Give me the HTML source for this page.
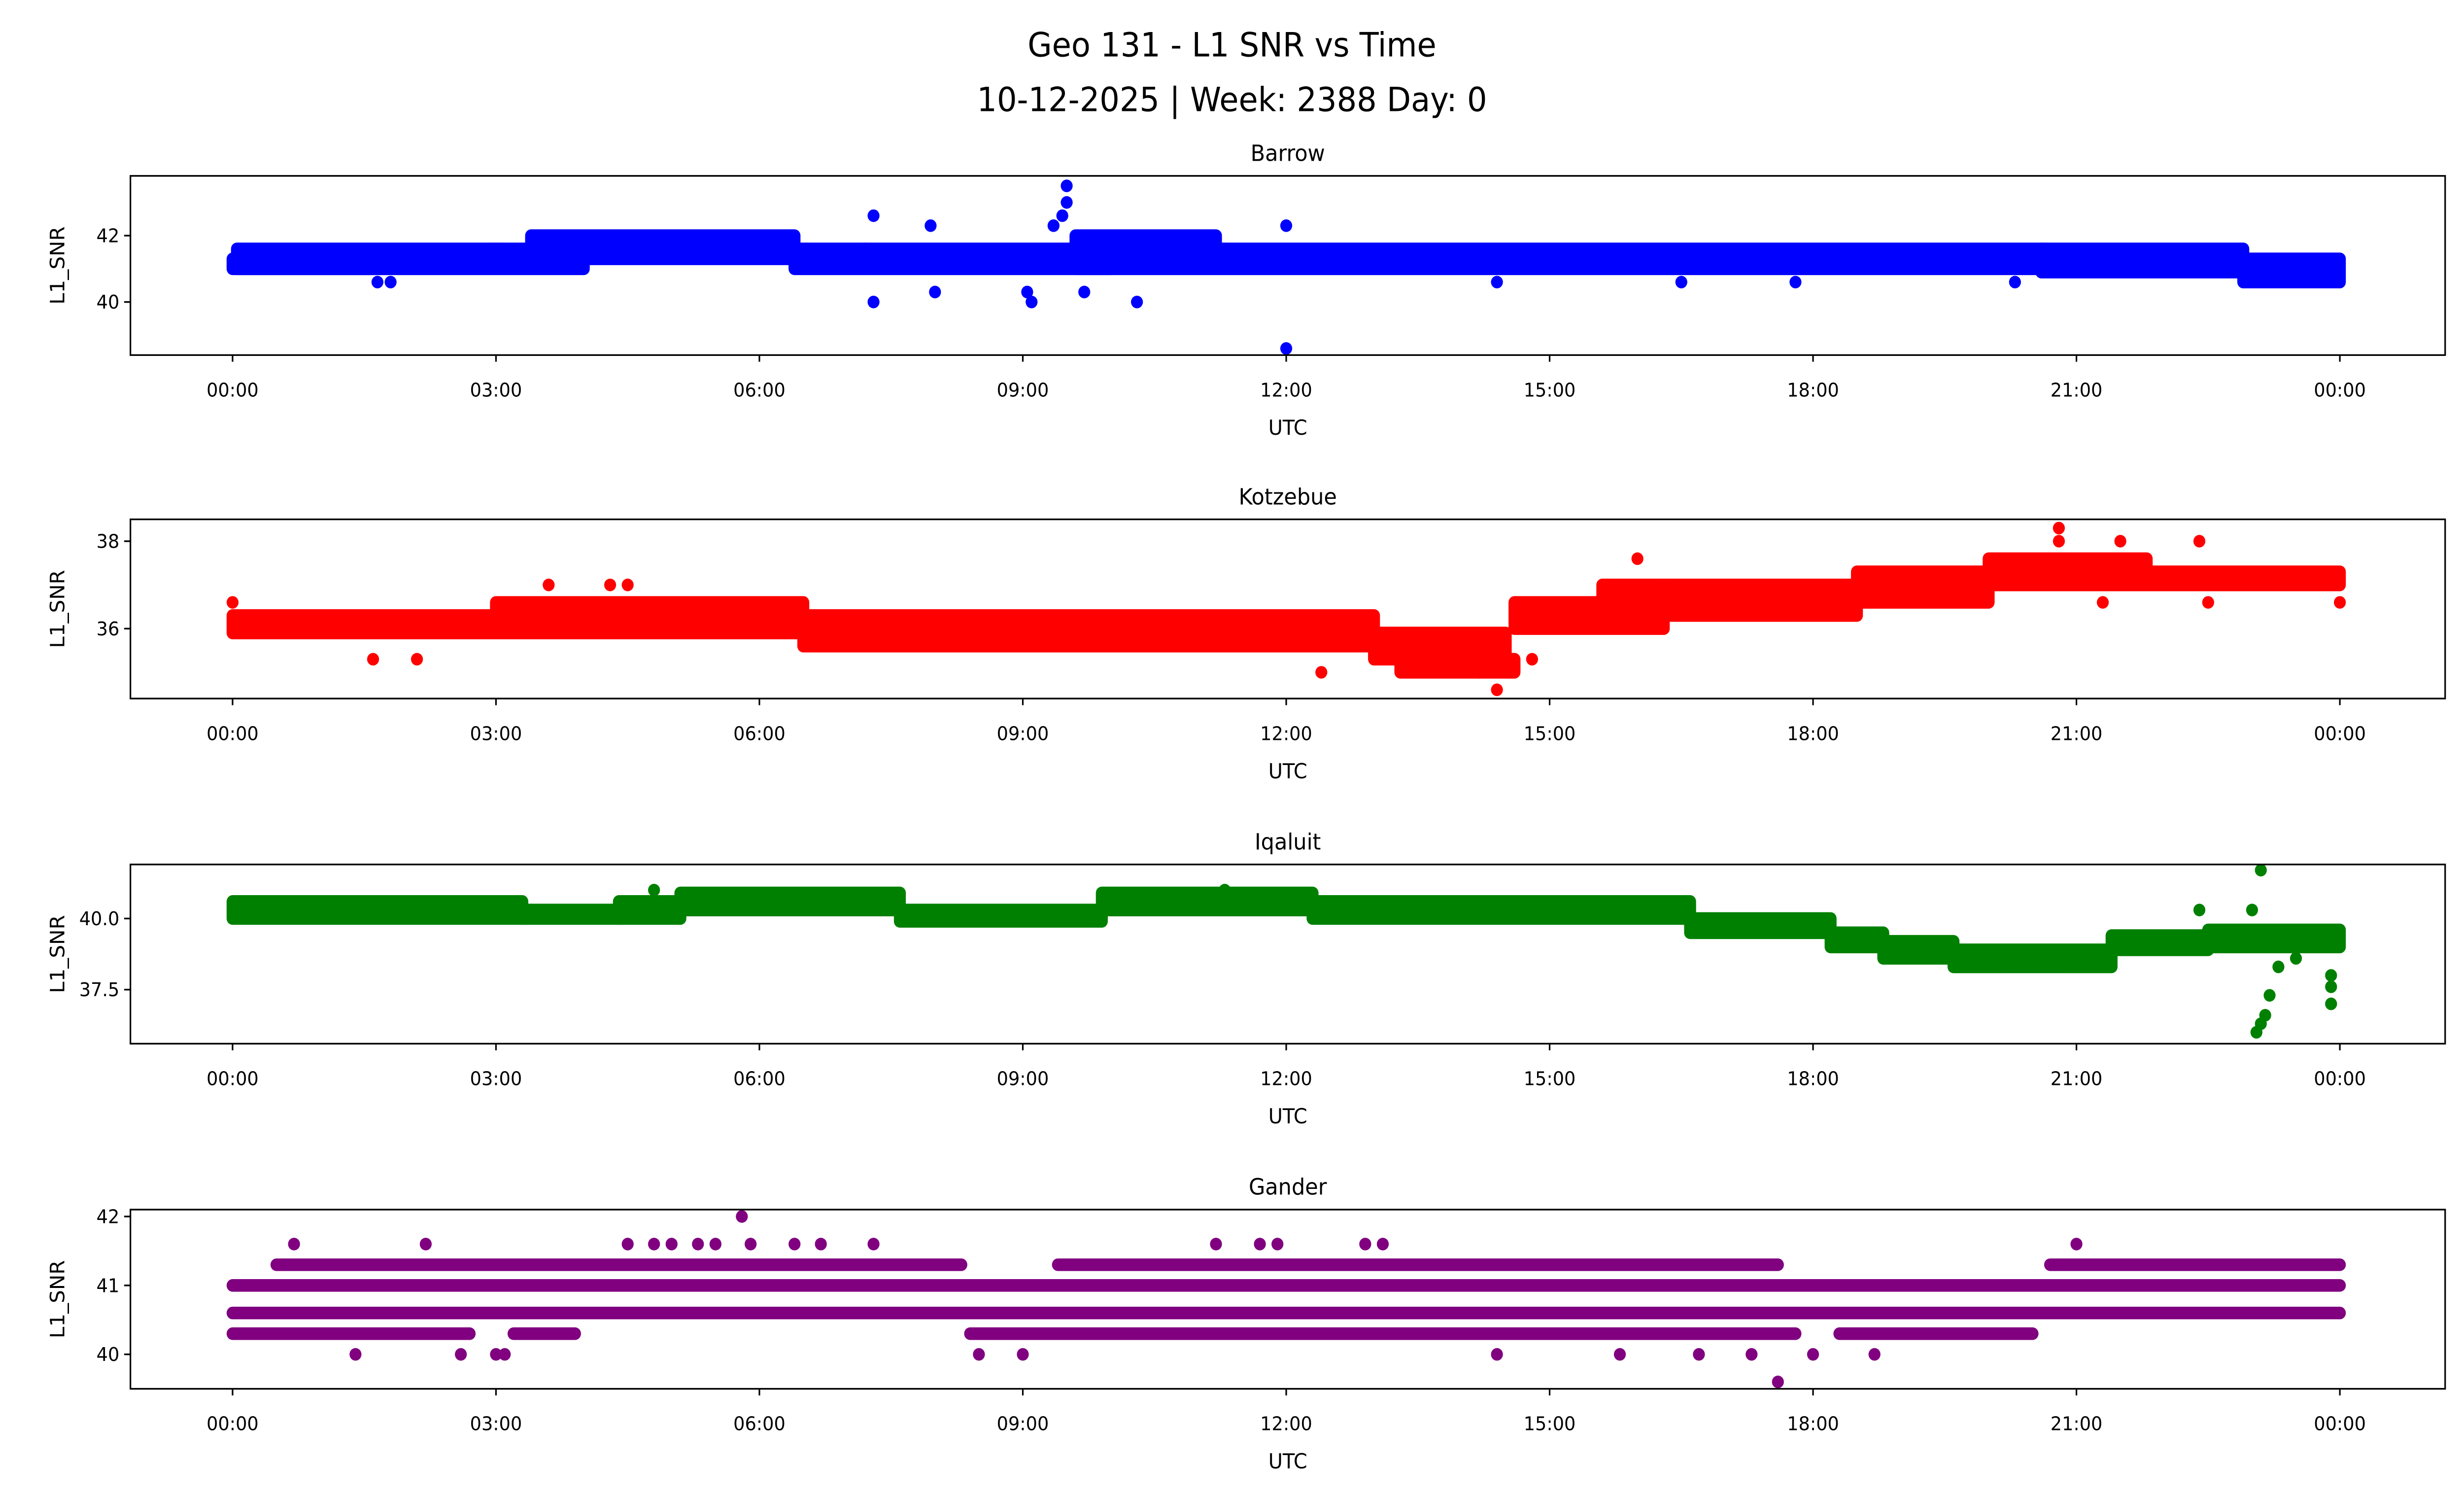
<!DOCTYPE html>
<html><head><meta charset="utf-8"><style>
html,body{margin:0;padding:0;background:#fff;width:100vw;height:100vh;overflow:hidden;}
svg{display:block;position:absolute;left:0;top:0;width:100vw;height:100vh;font-family:"DejaVu Sans","Liberation Sans",sans-serif;}
</style></head><body>
<svg id="fig" viewBox="0 0 1568 901" preserveAspectRatio="none" xmlns="http://www.w3.org/2000/svg">
<rect x="0" y="0" width="1568" height="901" fill="#fff"/>
<text x="784" y="34" font-size="20" text-anchor="middle">Geo 131 - L1 SNR vs Time</text>
<text x="784" y="67" font-size="20" text-anchor="middle">10-12-2025 | Week: 2388 Day: 0</text>
<g id="plots"></g>
</svg>
<script>
// shared x ticks (hours)
const xTickHours = [0,3,6,9,12,15,18,21,24];
const xTickLabels = ["00:00","03:00","06:00","09:00","12:00","15:00","18:00","21:00","00:00"];
// panel names
const stations = ["Barrow","Kotzebue","Iqaluit","Gander"];
const colors = ["blue","red","green","purple"];
// y tick values per panel
const yTicksBarrow = [40,42];
const yTicksKotzebue = [36,38];
const yTicksIqaluit = [37.5,40.0];
const yTicksGander = [40,41,42];
const yTickLabelsBarrow = ["40","42"];
const yTickLabelsKotzebue = ["36","38"];
const yTickLabelsIqaluit = ["37.5","40.0"];
const yTickLabelsGander = ["40","41","42"];
// y domains
const yDomBarrow = [38.4,43.8];
const yDomKotzebue = [34.4,38.5];
const yDomIqaluit = [35.6,41.9];
const yDomGander = [39.5,42.1];
// dense bands: [startHour, endHour, lowSNR, highSNR]
const bandsBarrow = [[0,1.6,41.0,41.3],[0.05,3,41.0,41.6],[3,4,41.0,41.6],[3.4,6.4,41.3,42.0],[6.4,7.2,41.0,41.6],[7.2,10,41.0,41.6],[9.6,11.2,41.0,42.0],[11.2,20.6,41.0,41.6],[20.6,22.9,40.9,41.6],[22.9,24,40.6,41.3]];
const bandsKotzebue = [[0,3,35.9,36.3],[3,6.5,35.9,36.6],[6.5,13,35.6,36.3],[13,14.5,35.3,35.9],[13.3,14.6,35.0,35.3],[14.6,15.6,36.0,36.6],[15.6,16.3,36.0,37.0],[16.3,18.5,36.3,37.0],[18.5,20,36.6,37.3],[20,21.8,37.0,37.6],[21.8,24,37.0,37.3]];
const bandsIqaluit = [[0,3.3,40.0,40.6],[3.3,4.4,40.0,40.3],[4.4,5.1,40.0,40.6],[5.1,7.6,40.3,40.9],[7.6,9.9,39.9,40.3],[9.9,12.3,40.3,40.9],[12.3,16.6,40.0,40.6],[16.6,18.2,39.5,40.0],[18.2,18.8,39.0,39.5],[18.8,19.6,38.6,39.2],[19.6,21.4,38.3,38.9],[21.4,22.5,38.9,39.4],[22.5,24,39.0,39.6]];
const bandsGander = [[0,24,40.6,40.6],[0,24,41.0,41.0],[0,2.7,40.3,40.3],[3.2,3.9,40.3,40.3],[8.4,17.8,40.3,40.3],[18.3,20.5,40.3,40.3],[0.5,8.3,41.3,41.3],[9.4,17.6,41.3,41.3],[20.7,24,41.3,41.3]];
// outlier points: hours, SNR
const ptsBarrowT = [7.3,7.3,7.95,8.0,9.05,9.1,9.35,9.45,9.5,9.5,9.7,10.3,12.0,12.0,1.65,1.8,14.4,16.5,17.8,20.3];
const ptsBarrowV = [42.6,40.0,42.3,40.3,40.3,40.0,42.3,42.6,43.0,43.5,40.3,40.0,42.3,38.6,40.6,40.6,40.6,40.6,40.6,40.6];
const ptsKotzebueT = [14.4,20.8,20.8,21.5,22.4,16.0,3.6,4.3,4.5,12.4,14.2,14.8,0.0,1.6,2.1,21.3,22.5,24.0];
const ptsKotzebueV = [34.6,38.3,38.0,38.0,38.0,37.6,37.0,37.0,37.0,35.0,35.0,35.3,36.6,35.3,35.3,36.6,36.6,36.6];
const ptsIqaluitT = [23.1,23.1,23.05,23.15,23.0,23.2,23.9,23.9,23.9,23.3,23.5,22.4,4.8,11.3];
const ptsIqaluitV = [41.7,36.3,36.0,36.6,40.3,37.3,37.0,37.6,38.0,38.3,38.6,40.3,41.0,41.0];
const ptsGanderT = [5.8,0.7,2.2,4.5,4.8,5.0,5.3,5.5,5.9,6.4,6.7,7.3,11.2,11.7,11.9,12.9,13.1,21.0,17.6,1.4,2.6,3.0,3.1,8.5,9.0,14.4,15.8,16.7,17.3,18.0,18.7];
const ptsGanderV = [42,41.6,41.6,41.6,41.6,41.6,41.6,41.6,41.6,41.6,41.6,41.6,41.6,41.6,41.6,41.6,41.6,41.6,39.6,40.0,40.0,40.0,40.0,40.0,40.0,40.0,40.0,40.0,40.0,40.0,40.0];

const NS="http://www.w3.org/2000/svg";
const root=document.getElementById('plots');
const AX_L=83, AX_R=1556, AX_H=108;
const tops=[106,313,521,729];
const X0=148, X1=1489;
function xs(h){return X0+(X1-X0)*h/24;}
function mk(tag,attrs,parent){const e=document.createElementNS(NS,tag);for(const k in attrs)e.setAttribute(k,attrs[k]);parent.appendChild(e);return e;}
const R=3.8;
const cfg=[
 [yDomBarrow,yTicksBarrow,yTickLabelsBarrow,bandsBarrow,ptsBarrowT,ptsBarrowV],
 [yDomKotzebue,yTicksKotzebue,yTickLabelsKotzebue,bandsKotzebue,ptsKotzebueT,ptsKotzebueV],
 [yDomIqaluit,yTicksIqaluit,yTickLabelsIqaluit,bandsIqaluit,ptsIqaluitT,ptsIqaluitV],
 [yDomGander,yTicksGander,yTickLabelsGander,bandsGander,ptsGanderT,ptsGanderV]];
cfg.forEach((c,i)=>{
 const [dom,yt,ytl,bands,pt,pv]=c;
 const top=tops[i], bot=top+AX_H;
 const ys=v=>bot-(v-dom[0])/(dom[1]-dom[0])*AX_H;
 const g=mk('g',{},root);
 
 
 const t=mk('text',{x:(AX_L+AX_R)/2,y:top-9,'font-size':13.5,'text-anchor':'middle'},g);
 t.textContent=stations[i];
 
 
 const cl=mk('clipPath',{id:'cp'+i},g);
 mk('rect',{x:AX_L,y:top,width:AX_R-AX_L,height:AX_H},cl);
 const mg=mk('g',{'clip-path':'url(#cp'+i+')'},g);
 
 
 bands.forEach(b=>{
  const x=xs(b[0])-R, w=xs(b[1])-xs(b[0])+2*R;
  const y=ys(b[3])-R, h=ys(b[2])-ys(b[3])+2*R;
  const r=mk('rect',{x:x,y:y,width:w,height:h,rx:R,ry:R,fill:colors[i]},mg);
  
  
 });
 pt.forEach((h,k)=>{
  const p=mk('circle',{cx:xs(h),cy:ys(pv[k]),r:R,fill:colors[i]},mg);
  
  
 });
 const frame=mk('rect',{x:AX_L,y:top,width:AX_R-AX_L,height:AX_H,fill:'none',stroke:'#000','stroke-width':1},g);
 
 
 xTickHours.forEach((h,k)=>{
  mk('line',{x1:xs(h),x2:xs(h),y1:bot,y2:bot+4,stroke:'#000','stroke-width':1},g);
  const tl=mk('text',{x:xs(h),y:bot+25,'font-size':11.5,'text-anchor':'middle'},g);
  tl.textContent=xTickLabels[k];
  
  
 });
 yt.forEach((v,k)=>{
  mk('line',{x1:AX_L-4,x2:AX_L,y1:ys(v),y2:ys(v),stroke:'#000','stroke-width':1},g);
  const tl=mk('text',{x:AX_L-7,y:ys(v)+4,'font-size':11.5,'text-anchor':'end'},g);
  tl.textContent=ytl[k];
  
  
 });
 const xl=mk('text',{x:(AX_L+AX_R)/2,y:bot+48,'font-size':12.5,'text-anchor':'middle'},g);
 xl.textContent='UTC';
 
 
 const yl=mk('text',{x:0,y:0,'font-size':12.5,'text-anchor':'middle',transform:'translate(41,'+(top+AX_H/2)+') rotate(-90)'},g);
 yl.textContent='L1_SNR';
 
 
});
</script>
</body></html>
